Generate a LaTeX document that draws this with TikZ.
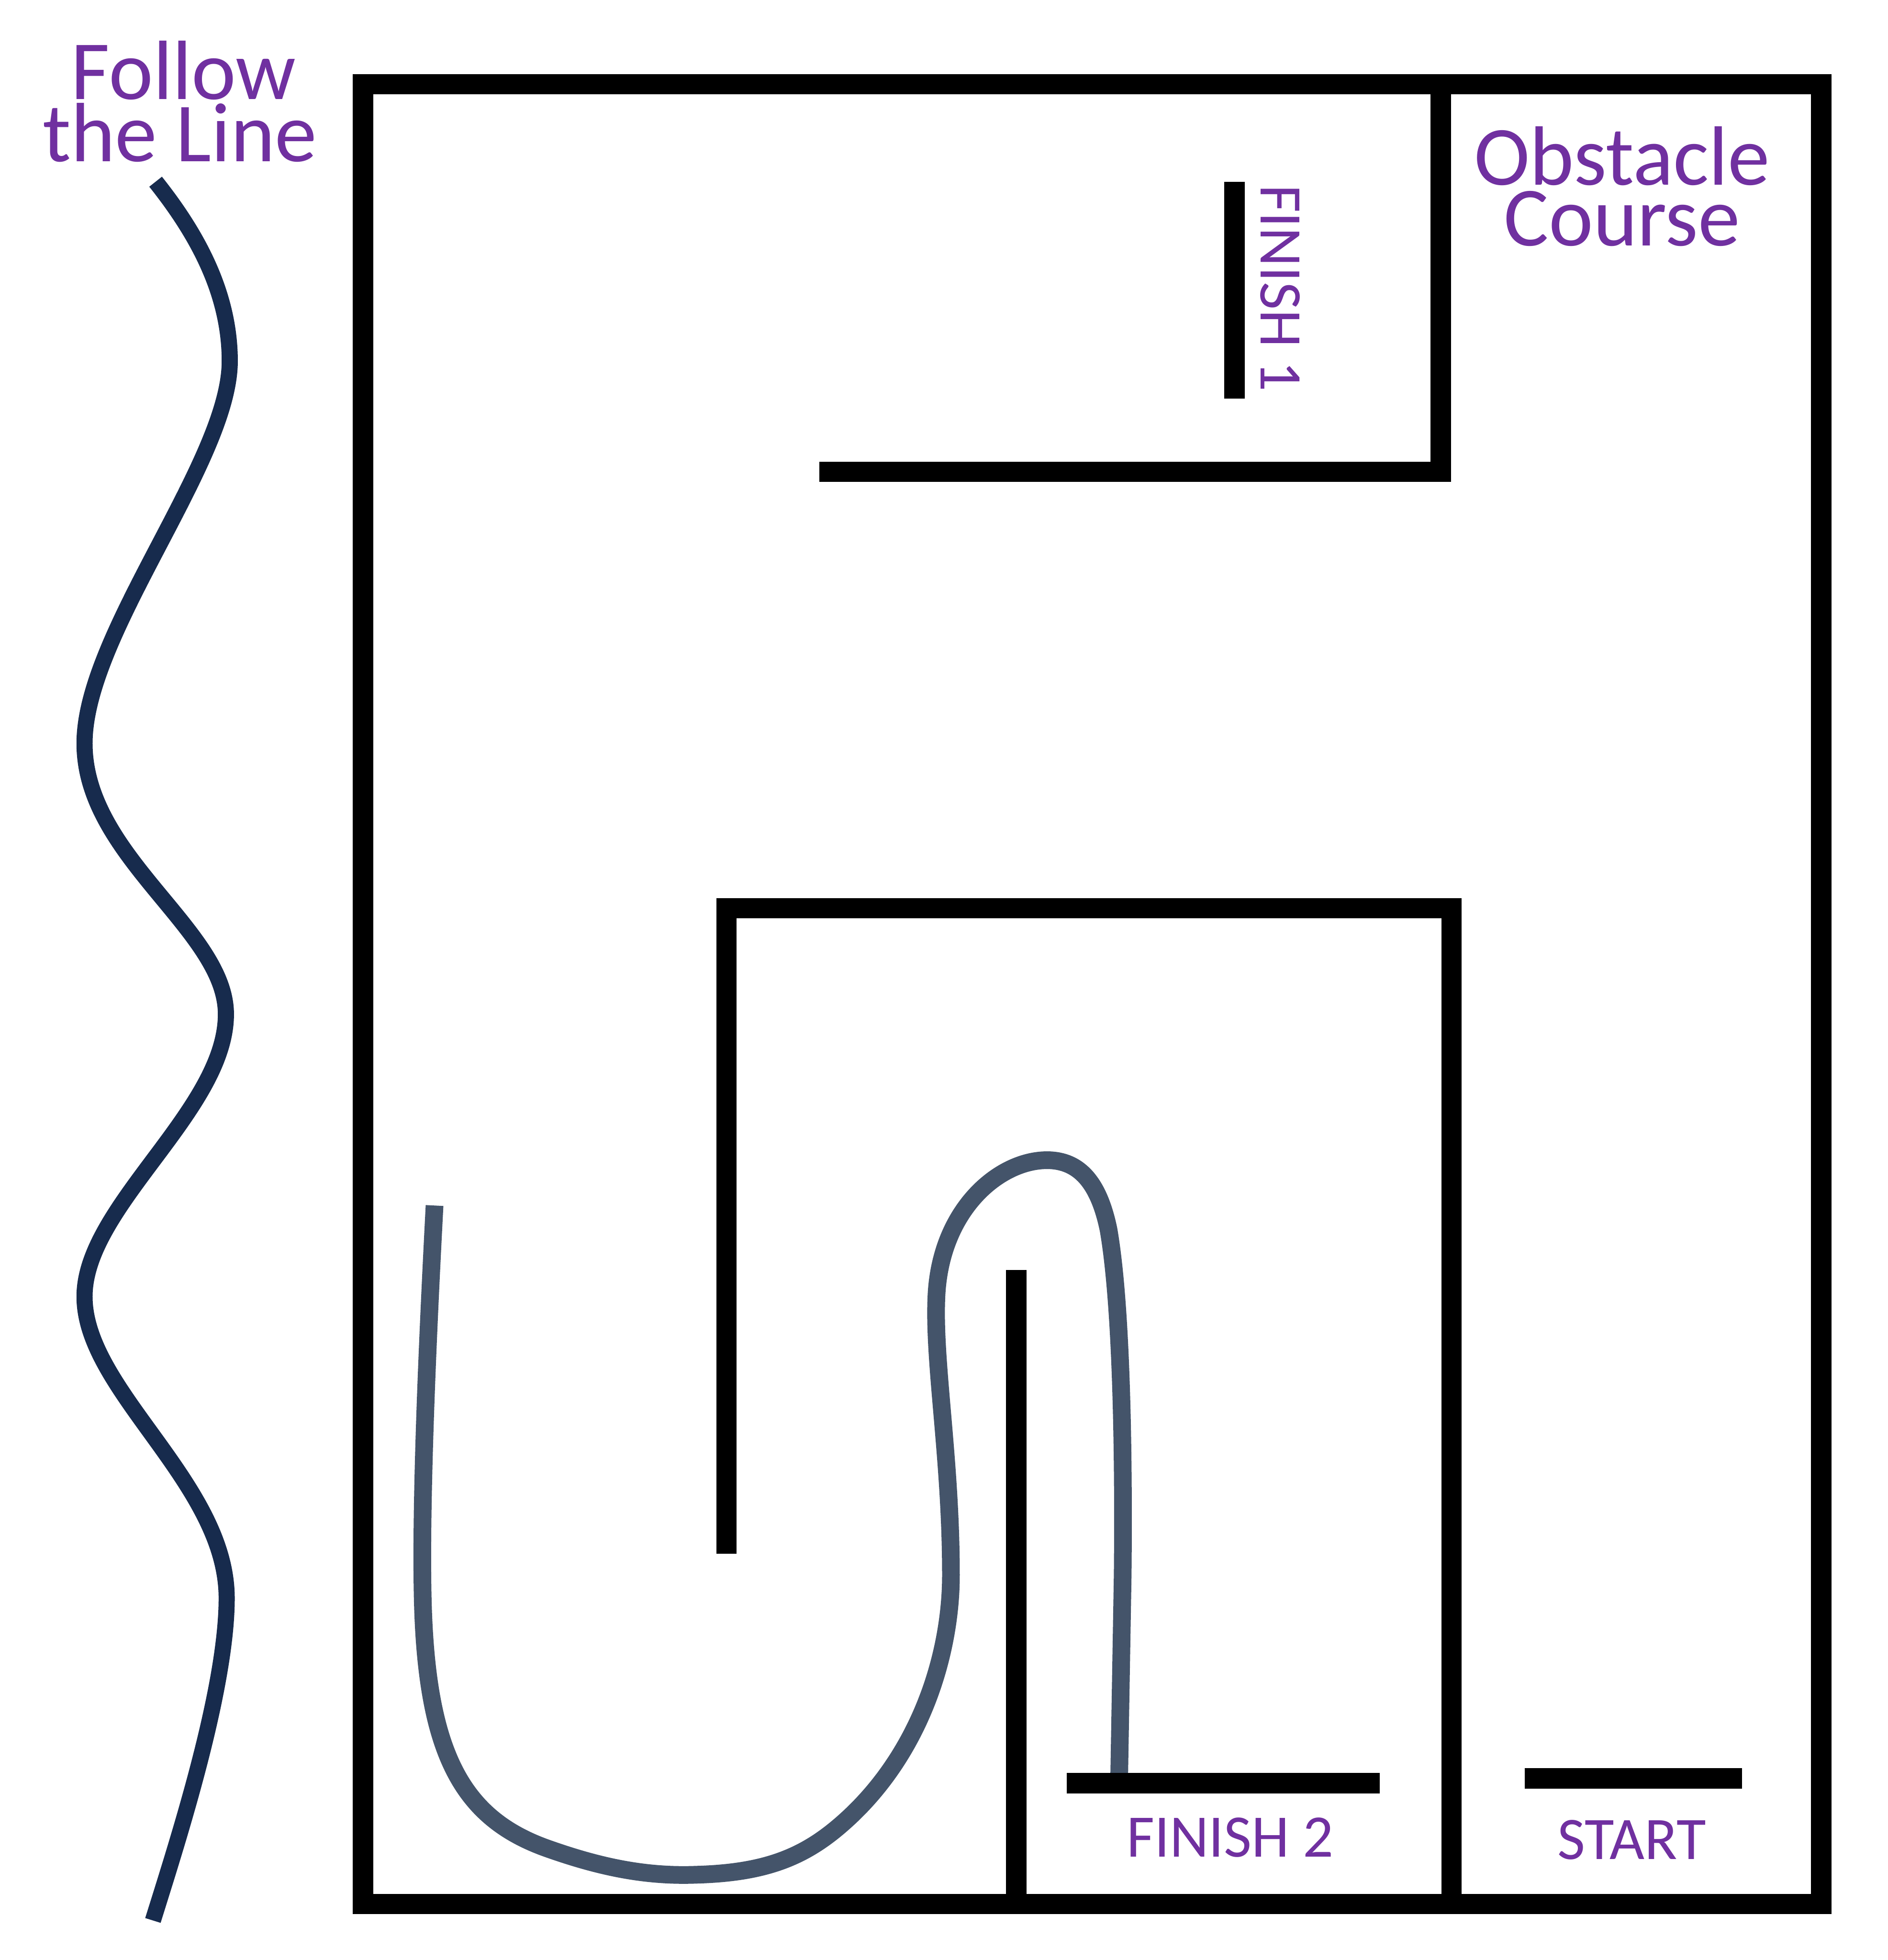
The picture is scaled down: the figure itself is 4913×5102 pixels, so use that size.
\documentclass[tikz,border=0pt]{standalone}
\usepackage{fontspec}
\setmainfont{Carlito}
\definecolor{lblpurple}{HTML}{7030A0}
\definecolor{navyline}{HTML}{172B4D}
\definecolor{grayline}{HTML}{44546A}
\newcommand\lblbig{\fontsize{62.3pt}{45.5pt}\selectfont}
\newcommand\lblsmall{\fontsize{44.7pt}{50pt}\selectfont}
\begin{document}
\begin{tikzpicture}[x=0.01cm,y=-0.01cm,
  wall/.style={line width=15.08pt, draw=black, line join=miter},
  wavy/.style={line width=11.95pt, draw=navyline},
  track/.style={line width=13.1pt, draw=grayline},
  biglabel/.style={inner sep=0pt, anchor=base, text=lblpurple, font=\lblbig},
  smalllabel/.style={inner sep=0pt, anchor=base, text=lblpurple, font=\lblsmall}]
\useasboundingbox (0,0) rectangle (4913,5102);

% follow-the-line wave
\coordinate (w0) at (405,473);
\coordinate (w1) at (598,940);
\coordinate (w2) at (220,1935);
\coordinate (w3) at (588,2640);
\coordinate (w4) at (220,3375);
\coordinate (w5) at (590,4160);
\coordinate (w6) at (398,4999);
\draw[wavy] (w0) .. controls (510,605) and (598,760) .. (w1)
  .. controls (598,1200) and (220,1650) .. (w2)
  .. controls (220,2230) and (588,2420) .. (w3)
  .. controls (588,2890) and (220,3140) .. (w4)
  .. controls (220,3620) and (590,3860) .. (w5)
  .. controls (590,4400) and (460,4800) .. (w6);

% grey track in the course
\coordinate (g0) at (1131,3138);
\coordinate (g1) at (1100,4150);
\coordinate (g2) at (1420,4810);
\coordinate (g3) at (1812,4880);
\coordinate (g4) at (2200,4740);
\coordinate (g5) at (2475,4100);
\coordinate (g6) at (2437,3380);
\coordinate (g7) at (2725,3020);
\coordinate (g8) at (2885,3200);
\coordinate (g9) at (2922,4100);
\coordinate (g10) at (2913,4619);
\draw[track] (g0) .. controls (1112,3500) and (1095,3900) .. (g1)
  .. controls (1108,4560) and (1200,4730) .. (g2)
  .. controls (1560,4860) and (1680,4885) .. (g3)
  .. controls (2000,4875) and (2100,4830) .. (g4)
  .. controls (2400,4560) and (2475,4300) .. (g5)
  .. controls (2475,3800) and (2430,3550) .. (g6)
  .. controls (2445,3150) and (2600,3020) .. (g7)
  .. controls (2810,3020) and (2860,3080) .. (g8)
  .. controls (2920,3400) and (2925,3800) .. (g9)
  -- (g10);

% outer frame
\draw[wall] (945,219) rectangle (4740,4956);
% top-right compartment
\coordinate (c1) at (2132,1228);
\coordinate (c2) at (3750,1228);
\coordinate (c3) at (3750,219);
\draw[wall] (c1) -- (c2) -- (c3);
% finish 1 bar
\coordinate (f1a) at (3213,473);
\coordinate (f1b) at (3213,1038);
\draw[wall] (f1a) -- (f1b);
% inner U
\coordinate (u1) at (1891,4044);
\coordinate (u2) at (1891,2364);
\coordinate (u3) at (3778,2364);
\coordinate (u4) at (3778,4956);
\draw[wall] (u1) -- (u2) -- (u3) -- (u4);
% middle divider
\coordinate (m1) at (2645,3306);
\coordinate (m2) at (2645,4956);
\draw[wall] (m1) -- (m2);
% finish 2 bar
\coordinate (f2a) at (2777,4642);
\coordinate (f2b) at (3591,4642);
\draw[wall] (f2a) -- (f2b);
% start bar
\coordinate (sa) at (3968,4629);
\coordinate (sb) at (4534,4629);
\draw[wall] (sa) -- (sb);

% labels
\node[biglabel] (follow1) at (478,258) {Follow};
\node[biglabel] (follow2) at (468,421) {the Line};
\node[biglabel] (obst1) at (4222,482) {Obstacle};
\node[biglabel] (obst2) at (4222,640) {Course};
\node[smalllabel, rotate=-90] (fin1) at (3282,750) {FINISH 1};
\node[smalllabel] (fin2) at (3202,4833) {FINISH 2};
\node[smalllabel] (start) at (4247,4840) {START};
\end{tikzpicture}
\end{document}
